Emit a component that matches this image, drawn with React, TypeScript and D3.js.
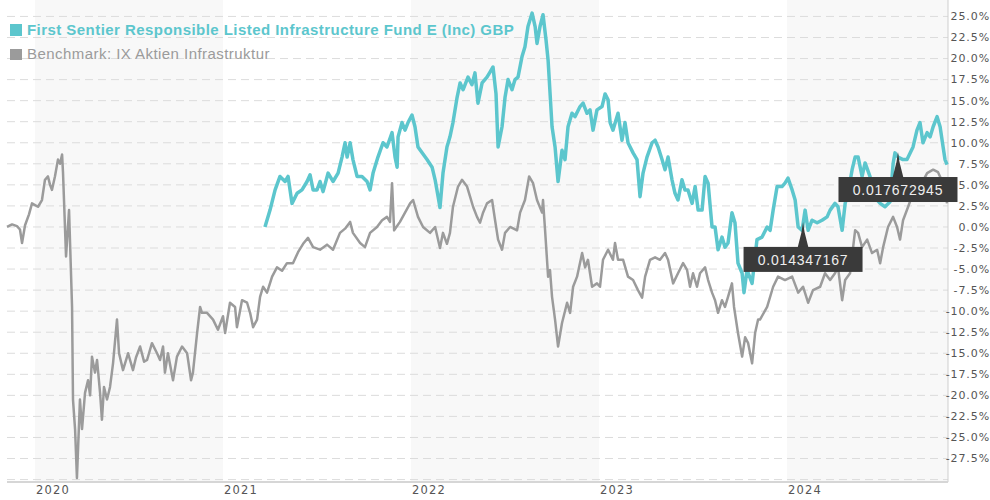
import React from 'react';
import * as d3 from 'd3';

const FUND_NAME = 'First Sentier Responsible Listed Infrastructure Fund E (Inc) GBP';
const BENCH_NAME = 'Benchmark: IX Aktien Infrastruktur';
const YEARS = [2020, 2021, 2022, 2023, 2024];
const SHADED_YEARS = [2020, 2022, 2024];
const Y_TICKS = [-27.5, -25, -22.5, -20, -17.5, -15, -12.5, -10, -7.5, -5, -2.5, 0, 2.5, 5, 7.5, 10, 12.5, 15, 17.5, 20, 22.5, 25];
const Y_GRID = [-30, ...Y_TICKS];

// [decimal year, cumulative performance %]
const benchmark: [number, number][] = [
  [2019.851, 0.0], [2019.878, 0.3], [2019.904, 0.1], [2019.92, -0.3], [2019.931, -1.9], [2019.947, 0.2],
  [2019.968, 1.5], [2019.984, 2.8], [2020.0, 2.6], [2020.016, 2.4], [2020.037, 3.2], [2020.053, 5.6],
  [2020.069, 6.0], [2020.08, 5.0], [2020.09, 4.4], [2020.106, 6.0], [2020.122, 8.0], [2020.133, 7.5],
  [2020.144, 8.6], [2020.149, 6.4], [2020.165, -3.5], [2020.181, 2.0], [2020.197, -9.5], [2020.202, -20.5],
  [2020.213, -24.0], [2020.223, -29.8], [2020.239, -20.5], [2020.25, -24.0], [2020.266, -19.7], [2020.282, -18.2],
  [2020.293, -20.0], [2020.303, -15.4], [2020.319, -17.3], [2020.33, -15.8], [2020.346, -19.7], [2020.356, -22.9],
  [2020.367, -19.0], [2020.383, -20.5], [2020.399, -19.0], [2020.415, -16.2], [2020.436, -11.0], [2020.447, -15.0],
  [2020.468, -17.0], [2020.495, -15.0], [2020.521, -17.0], [2020.537, -15.5], [2020.559, -14.2], [2020.58, -16.0],
  [2020.596, -15.8], [2020.622, -13.8], [2020.649, -15.0], [2020.665, -15.8], [2020.681, -14.2], [2020.691, -17.3],
  [2020.707, -15.0], [2020.734, -18.2], [2020.755, -15.4], [2020.782, -14.2], [2020.809, -15.0], [2020.83, -18.2],
  [2020.84, -17.3], [2020.862, -12.6], [2020.878, -9.5], [2020.888, -10.2], [2020.915, -10.2], [2020.947, -11.0],
  [2020.973, -12.2], [2021.0, -10.6], [2021.011, -12.6], [2021.037, -9.0], [2021.064, -9.5], [2021.074, -11.9],
  [2021.101, -8.7], [2021.128, -9.0], [2021.144, -10.2], [2021.16, -11.9], [2021.181, -11.0], [2021.197, -8.3],
  [2021.213, -7.1], [2021.234, -7.8], [2021.261, -5.9], [2021.287, -4.8], [2021.314, -5.2], [2021.34, -4.3],
  [2021.372, -4.3], [2021.399, -3.0], [2021.426, -2.0], [2021.452, -1.3], [2021.479, -2.4], [2021.516, -2.7],
  [2021.553, -2.1], [2021.585, -2.7], [2021.622, -0.7], [2021.649, -0.2], [2021.676, 0.6], [2021.691, -0.7],
  [2021.729, -1.9], [2021.755, -2.4], [2021.782, -0.7], [2021.819, 0.0], [2021.846, 0.8], [2021.872, 1.2],
  [2021.888, 0.6], [2021.899, 5.2], [2021.91, -0.4], [2021.941, 0.6], [2021.968, 1.7], [2021.995, 2.8],
  [2022.011, 3.2], [2022.037, 1.2], [2022.064, 0.0], [2022.101, -0.7], [2022.128, 0.0], [2022.154, -2.5],
  [2022.17, -0.7], [2022.191, -2.0], [2022.207, -0.7], [2022.223, 2.4], [2022.25, 4.8], [2022.271, 5.6],
  [2022.298, 4.8], [2022.314, 3.6], [2022.33, 2.4], [2022.351, 1.2], [2022.367, 0.5], [2022.383, 1.7],
  [2022.404, 2.8], [2022.431, 3.2], [2022.447, 0.8], [2022.463, -1.5], [2022.484, -2.7], [2022.5, -0.7],
  [2022.527, 0.0], [2022.564, -0.4], [2022.58, 1.7], [2022.606, 3.2], [2022.628, 6.0], [2022.649, 5.2],
  [2022.67, 3.2], [2022.697, 1.7], [2022.702, 3.2], [2022.713, -0.4], [2022.729, -5.9], [2022.739, -5.1],
  [2022.75, -8.3], [2022.766, -11.0], [2022.782, -14.2], [2022.803, -11.4], [2022.83, -9.0], [2022.846, -10.2],
  [2022.862, -7.1], [2022.883, -5.9], [2022.91, -3.1], [2022.926, -4.8], [2022.941, -3.9], [2022.963, -7.1],
  [2022.989, -6.7], [2023.005, -7.1], [2023.021, -3.9], [2023.048, -2.7], [2023.074, -3.9], [2023.085, -1.9],
  [2023.101, -3.9], [2023.128, -3.9], [2023.154, -5.9], [2023.181, -6.3], [2023.207, -7.5], [2023.229, -8.4],
  [2023.245, -5.9], [2023.271, -3.9], [2023.298, -3.6], [2023.324, -3.9], [2023.351, -3.1], [2023.367, -3.9],
  [2023.394, -6.7], [2023.42, -5.5], [2023.447, -4.3], [2023.468, -5.1], [2023.484, -7.1], [2023.5, -5.5],
  [2023.521, -7.1], [2023.537, -5.5], [2023.564, -4.8], [2023.58, -6.3], [2023.601, -7.8], [2023.617, -8.7],
  [2023.633, -10.2], [2023.654, -8.7], [2023.67, -9.5], [2023.686, -8.3], [2023.707, -6.7], [2023.718, -9.5],
  [2023.739, -12.6], [2023.761, -15.4], [2023.777, -13.1], [2023.793, -13.8], [2023.814, -16.2], [2023.83, -12.6],
  [2023.846, -11.0], [2023.856, -11.0], [2023.894, -9.5], [2023.926, -7.1], [2023.952, -5.9], [2023.989, -6.3],
  [2024.027, -5.9], [2024.059, -7.8], [2024.085, -7.1], [2024.112, -9.0], [2024.138, -7.5], [2024.176, -7.1],
  [2024.202, -5.5], [2024.229, -6.3], [2024.255, -5.5], [2024.271, -4.8], [2024.293, -8.7], [2024.309, -6.3],
  [2024.335, -5.5], [2024.362, -0.4], [2024.378, -0.7], [2024.399, -2.4], [2024.426, -1.5], [2024.452, -3.1],
  [2024.479, -2.7], [2024.495, -4.3], [2024.511, -2.4], [2024.537, 0.0], [2024.564, 1.2], [2024.585, 0.0],
  [2024.601, -1.5], [2024.617, 0.8], [2024.644, 2.4], [2024.67, 4.0], [2024.707, 4.8], [2024.745, 6.4],
  [2024.777, 6.8], [2024.803, 6.5], [2024.83, 5.2], [2024.851, 2.8],
];

const fund: [number, number][] = [
  [2021.223, 0.0], [2021.25, 2.0], [2021.277, 4.4], [2021.303, 6.0], [2021.33, 5.4], [2021.346, 6.0],
  [2021.367, 2.8], [2021.394, 4.0], [2021.42, 4.4], [2021.447, 5.4], [2021.463, 6.2], [2021.479, 4.4],
  [2021.5, 4.4], [2021.516, 5.4], [2021.532, 4.2], [2021.559, 6.4], [2021.585, 5.4], [2021.612, 6.4],
  [2021.633, 8.3], [2021.649, 10.0], [2021.66, 8.3], [2021.676, 10.0], [2021.691, 8.0], [2021.713, 6.0],
  [2021.739, 6.0], [2021.766, 5.4], [2021.782, 4.4], [2021.798, 6.4], [2021.824, 8.3], [2021.851, 10.0],
  [2021.872, 9.5], [2021.899, 11.2], [2021.915, 8.3], [2021.926, 7.1], [2021.931, 10.7], [2021.952, 12.4],
  [2021.968, 11.5], [2021.984, 12.4], [2022.005, 13.3], [2022.021, 11.9], [2022.037, 9.5], [2022.059, 8.8],
  [2022.085, 8.0], [2022.112, 7.1], [2022.128, 5.6], [2022.144, 3.6], [2022.154, 2.3], [2022.17, 6.4],
  [2022.191, 9.5], [2022.207, 10.7], [2022.223, 12.4], [2022.245, 15.4], [2022.261, 17.1], [2022.277, 16.3],
  [2022.303, 17.8], [2022.324, 16.9], [2022.34, 18.3], [2022.356, 14.7], [2022.378, 17.1], [2022.404, 17.8],
  [2022.42, 18.4], [2022.436, 19.0], [2022.452, 15.8], [2022.463, 9.5], [2022.484, 11.9], [2022.5, 15.4],
  [2022.516, 17.5], [2022.537, 16.3], [2022.553, 17.5], [2022.569, 17.8], [2022.59, 20.2], [2022.606, 21.4],
  [2022.622, 23.8], [2022.644, 25.4], [2022.66, 23.8], [2022.67, 21.8], [2022.686, 23.8], [2022.702, 25.2],
  [2022.718, 22.2], [2022.729, 19.8], [2022.75, 11.9], [2022.766, 9.5], [2022.782, 5.4], [2022.803, 9.1],
  [2022.819, 8.0], [2022.835, 11.9], [2022.856, 13.5], [2022.872, 13.1], [2022.899, 14.3], [2022.915, 14.7],
  [2022.936, 13.5], [2022.952, 13.9], [2022.968, 11.5], [2022.989, 13.9], [2023.016, 14.3], [2023.032, 15.8],
  [2023.048, 15.1], [2023.059, 12.4], [2023.074, 11.5], [2023.101, 13.5], [2023.122, 10.3], [2023.138, 12.4],
  [2023.154, 10.0], [2023.181, 8.8], [2023.202, 8.0], [2023.218, 3.6], [2023.234, 6.4], [2023.255, 8.3],
  [2023.282, 10.0], [2023.298, 10.3], [2023.314, 9.5], [2023.335, 8.0], [2023.351, 6.8], [2023.367, 8.3],
  [2023.388, 5.6], [2023.404, 4.0], [2023.42, 3.2], [2023.441, 5.6], [2023.457, 4.4], [2023.473, 4.4],
  [2023.495, 2.8], [2023.511, 4.8], [2023.527, 2.0], [2023.548, 2.0], [2023.564, 6.0], [2023.58, 5.2],
  [2023.601, 0.0], [2023.617, 0.0], [2023.633, -2.7], [2023.654, -1.2], [2023.67, -2.4], [2023.686, -1.9],
  [2023.707, 1.7], [2023.723, 0.5], [2023.739, -4.3], [2023.761, -5.5], [2023.771, -7.8], [2023.787, -5.1],
  [2023.814, -6.7], [2023.84, -1.5], [2023.867, -1.2], [2023.894, 0.0], [2023.91, -0.4], [2023.926, 2.0],
  [2023.947, 4.8], [2023.973, 4.8], [2023.989, 5.2], [2024.005, 5.8], [2024.027, 4.4], [2024.043, 3.2],
  [2024.059, 0.0], [2024.08, -0.4], [2024.096, 2.0], [2024.112, -0.4], [2024.133, 0.8], [2024.16, 0.5],
  [2024.186, 0.8], [2024.213, 1.2], [2024.229, 2.0], [2024.255, 2.8], [2024.271, 2.4], [2024.293, -0.4],
  [2024.309, 2.8], [2024.324, 4.0], [2024.346, 6.8], [2024.362, 8.3], [2024.378, 8.3], [2024.399, 6.0],
  [2024.415, 7.6], [2024.441, 6.0], [2024.468, 3.5], [2024.495, 2.8], [2024.521, 2.4], [2024.548, 3.0],
  [2024.564, 7.5], [2024.574, 8.8], [2024.59, 8.3], [2024.617, 8.0], [2024.638, 8.0], [2024.67, 9.5],
  [2024.691, 11.5], [2024.707, 12.4], [2024.723, 10.0], [2024.745, 11.2], [2024.761, 10.7], [2024.777, 11.9],
  [2024.798, 13.1], [2024.814, 11.9], [2024.83, 9.5], [2024.84, 8.0], [2024.851, 7.4],
];

const annotationTimes = [2024.085, 2024.59];
const annotationValues = [0.6, 8.9];
const annotationLabels = ['0.014347167', '0.017672945'];

const W = 990;
const H = 500;
const TEAL = '#5cc6cd';
const GRAY = '#9b9b9b';

export default function App() {
  const x = d3.scaleLinear().domain([2019.851, 2024.856]).range([7, 948]);
  const y = d3.scaleLinear().domain([-30.3, 26.3]).range([482.1, 5.5]);
  const left = x.range()[0];
  const right = x.range()[1];
  const bottom = y.range()[0];

  const line = d3
    .line<[number, number]>()
    .x((d) => x(d[0]))
    .y((d) => y(d[1]));

  return (
    <svg
      width={W}
      height={H}
      style={{ position: 'absolute', left: 0, top: 0, background: '#fff' }}
    >
      {SHADED_YEARS.map((yr) => (
        <rect
          key={'band' + yr}
          x={x(yr)}
          y={0}
          width={Math.min(x(yr + 1), right) - x(yr)}
          height={bottom}
          fill="#f8f8f8"
        />
      ))}
      {Y_GRID.map((t) => (
        <line
          key={'g' + t}
          x1={left}
          x2={right}
          y1={y(t)}
          y2={y(t)}
          stroke="#dcdcdc"
          strokeWidth={1}
          strokeDasharray="8,5"
        />
      ))}
      <line x1={right} x2={right} y1={0} y2={bottom} stroke="#cfcfcf" strokeWidth={1} />
      <line x1={left} x2={right} y1={bottom} y2={bottom} stroke="#d6d6d6" strokeWidth={2} />

      {Y_TICKS.map((t) => (
        <text
          key={'yt' + t}
          x={990}
          y={y(t)}
          dy="0.35em"
          textAnchor="end"
          fontFamily="DejaVu Sans, Verdana, sans-serif"
          fontSize={11}
          letterSpacing={0.9}
          fill="#555"
        >
          {t.toFixed(1) + '%'}
        </text>
      ))}
      {YEARS.map((yr) => (
        <text
          key={'xt' + yr}
          x={x(yr) + 1}
          y={494}
          fontFamily="DejaVu Sans, Verdana, sans-serif"
          fontSize={11.5}
          letterSpacing={1.2}
          fill="#555"
        >
          {yr}
        </text>
      ))}

      <path d={line(benchmark) || ''} fill="none" stroke={GRAY} strokeWidth={2.5} strokeLinejoin="round" />
      <path d={line(fund) || ''} fill="none" stroke={TEAL} strokeWidth={3.5} strokeLinejoin="round" />

      <rect x={10} y={24} width={12} height={12} fill={TEAL} />
      <text
        x={27}
        y={35}
        fontFamily="Liberation Sans, Arial, sans-serif"
        fontWeight="bold"
        fontSize={15}
        letterSpacing={0.45}
        fill={TEAL}
      >
        {FUND_NAME}
      </text>
      <rect x={10} y={49} width={12} height={11} fill={GRAY} />
      <text
        x={27}
        y={59}
        fontFamily="Liberation Sans, Arial, sans-serif"
        fontSize={15}
        letterSpacing={0.45}
        fill={GRAY}
      >
        {BENCH_NAME}
      </text>

      {annotationTimes.map((t, i) => {
        const px = x(t);
        const py = y(annotationValues[i]);
        const top = py + 25;
        const w = 119;
        return (
          <g key={'ann' + i}>
            <path
              d={`M${px},${py} L${px + 1.5},${py + 10} L${px + 5.5},${top + 1} L${px - 5.5},${top + 1} L${px - 1.5},${py + 10} Z`}
              fill="#3a3a3a"
            />
            <rect x={px - w / 2} y={top} width={w} height={25} fill="#3a3a3a" />
            <text
              x={px}
              y={top + 18}
              textAnchor="middle"
              fontFamily="Liberation Sans, Arial, sans-serif"
              fontSize={14}
              letterSpacing={0.8}
              fill="#eeeeee"
            >
              {annotationLabels[i]}
            </text>
          </g>
        );
      })}
    </svg>
  );
}
